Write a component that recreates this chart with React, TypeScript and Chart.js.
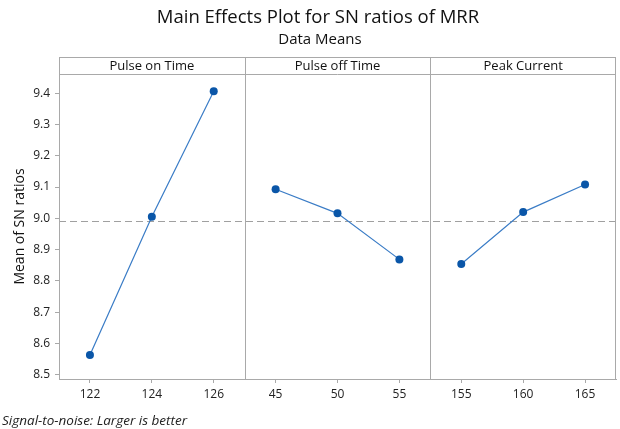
import React, { useEffect, useRef } from "react";
import { Chart, registerables } from "chart.js";

Chart.register(...registerables);

const factorNames = ["Pulse on Time", "Pulse off Time", "Peak Current"];
const pulseOnLevels = ["122", "124", "126"];
const pulseOffLevels = ["45", "50", "55"];
const peakCurrentLevels = ["155", "160", "165"];
const pulseOnMeans = [8.564, 9.005, 9.406];
const pulseOffMeans = [9.093, 9.016, 8.869];
const peakCurrentMeans = [8.854, 9.02, 9.108];
const yTicks = [8.5, 8.6, 8.7, 8.8, 8.9, 9.0, 9.1, 9.2, 9.3, 9.4];
const yMin = 8.487;
const yMax = 9.461;

const titleText = "Main Effects Plot for SN ratios of MRR";
const subtitleText = "Data Means";
const yTitleText = "Mean of SN ratios";
const footerText = "Signal-to-noise: Larger is better";

const FONT = "'Open Sans', 'Noto Sans', sans-serif";
const GRAY = "#a9a9a9";
const LINE = "#3a7cc6";
const POINT = "#0a56a8";

export default function App() {
  const ref = useRef<HTMLCanvasElement | null>(null);

  useEffect(() => {
    if (!ref.current) return;
    const levelGroups = [pulseOnLevels, pulseOffLevels, peakCurrentLevels];
    const meanGroups = [pulseOnMeans, pulseOffMeans, peakCurrentMeans];
    const labels = levelGroups.flat();
    const total = labels.length;
    let offset = 0;
    const datasets = meanGroups.map((means, g) => {
      const data: (number | null)[] = new Array(total).fill(null);
      means.forEach((v, i) => (data[offset + i] = v));
      offset += means.length;
      return {
        label: factorNames[g],
        data,
        borderColor: LINE,
        borderWidth: 1.2,
        pointBackgroundColor: POINT,
        pointBorderColor: POINT,
        pointRadius: 4,
        pointBorderWidth: 0,
        spanGaps: false,
        tension: 0,
      };
    });
    const grandMean =
      pulseOnMeans.reduce((a, b) => a + b, 0) / pulseOnMeans.length;

    const panelPlugin = {
      id: "panels",
      beforeDatasetsDraw(chart: any) {
        const { ctx, chartArea: a } = chart;
        const y = chart.scales.y.getPixelForValue(grandMean);
        ctx.save();
        ctx.strokeStyle = "#a0a0a0";
        ctx.lineWidth = 1;
        ctx.setLineDash([7, 4]);
        ctx.beginPath();
        ctx.moveTo(a.left, Math.round(y) + 0.5);
        ctx.lineTo(a.right, Math.round(y) + 0.5);
        ctx.stroke();
        ctx.restore();
      },
      afterDraw(chart: any) {
        const { ctx, chartArea: a } = chart;
        const xs = chart.scales.x;
        const headerH = 17;
        const bounds: number[] = [a.left];
        let idx = 0;
        for (let g = 0; g < levelGroups.length - 1; g++) {
          idx += levelGroups[g].length;
          bounds.push(
            (xs.getPixelForValue(idx - 1) + xs.getPixelForValue(idx)) / 2
          );
        }
        bounds.push(a.right);
        ctx.save();
        ctx.strokeStyle = GRAY;
        ctx.lineWidth = 1;
        ctx.strokeRect(
          Math.round(a.left) + 0.5,
          Math.round(a.top - headerH) + 0.5,
          Math.round(a.right - a.left) - 1,
          Math.round(a.bottom - a.top + headerH)
        );
        ctx.beginPath();
        ctx.moveTo(a.left, Math.round(a.top) + 0.5);
        ctx.lineTo(a.right, Math.round(a.top) + 0.5);
        for (let k = 1; k < bounds.length - 1; k++) {
          const x = Math.round(bounds[k]) + 0.5;
          ctx.moveTo(x, a.top - headerH);
          ctx.lineTo(x, a.bottom);
        }
        ctx.stroke();
        ctx.fillStyle = "#111";
        ctx.font = `13px ${FONT}`;
        ctx.textAlign = "center";
        ctx.textBaseline = "middle";
        for (let g = 0; g < factorNames.length; g++) {
          ctx.fillText(
            factorNames[g],
            (bounds[g] + bounds[g + 1]) / 2,
            a.top - headerH / 2 + 0.5
          );
        }
        ctx.font = `18.5px ${FONT}`;
        ctx.fillText(titleText, 318, 18);
        ctx.font = `15px ${FONT}`;
        ctx.fillText(subtitleText, 320, 40);
        ctx.save();
        ctx.translate(20, (a.top + a.bottom) / 2);
        ctx.rotate(-Math.PI / 2);
        ctx.font = `14px ${FONT}`;
        ctx.fillText(yTitleText, 0, 0);
        ctx.restore();
        ctx.textAlign = "left";
        ctx.font = `italic 13.5px ${FONT}`;
        ctx.fillStyle = "#222";
        ctx.fillText(footerText, 2, 421);
        ctx.restore();
      },
    };

    const chart = new Chart(ref.current, {
      type: "line",
      data: { labels, datasets },
      options: {
        animation: false,
        responsive: true,
        maintainAspectRatio: false,
        layout: { padding: { top: 74, right: 2, left: 0, bottom: 0 } },
        plugins: {
          legend: { display: false },
          tooltip: { enabled: false },
          title: { display: false },
        },
        scales: {
          x: {
            type: "category",
            offset: true,
            grid: {
              offset: false,
              drawOnChartArea: false,
              drawTicks: true,
              tickLength: 4,
              color: GRAY,
            },
            border: { display: true, color: GRAY },
            ticks: {
              color: "#222",
              font: { family: FONT, size: 12 },
              padding: 4,
              maxRotation: 0,
              autoSkip: false,
            },
            afterFit: (s: any) => {
              s.height = 50;
            },
          },
          y: {
            min: yMin,
            max: yMax,
            grid: {
              drawOnChartArea: false,
              drawTicks: true,
              tickLength: 4,
              color: GRAY,
            },
            border: { display: true, color: GRAY },
            afterBuildTicks: (s: any) => {
              s.ticks = yTicks.map((v) => ({ value: v }));
            },
            ticks: {
              color: "#222",
              font: { family: FONT, size: 12 },
              padding: 5,
              callback: (v: any) => Number(v).toFixed(1),
            },
            afterFit: (s: any) => {
              s.width = 59;
            },
          },
        },
      },
      plugins: [panelPlugin],
    });
    return () => chart.destroy();
  }, []);

  return (
    <div
      style={{
        position: "fixed",
        left: 0,
        top: 0,
        width: 620,
        height: 429,
        background: "#fff",
      }}
    >
      <canvas ref={ref} />
    </div>
  );
}
